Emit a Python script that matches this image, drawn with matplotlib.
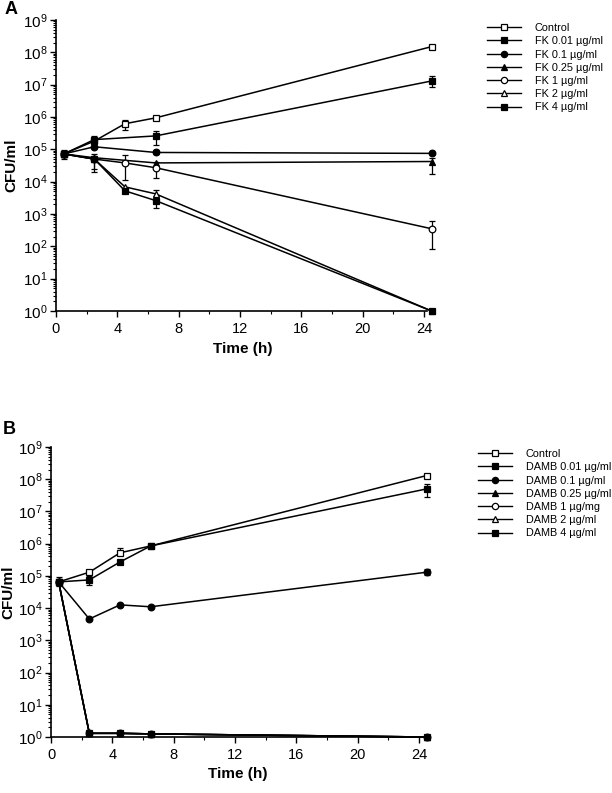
import numpy as np
import matplotlib
matplotlib.use("Agg")
import matplotlib.pyplot as plt
from matplotlib.ticker import LogLocator, NullFormatter, MultipleLocator
from matplotlib.lines import Line2D

plt.rcParams.update({
    "font.family": ["Liberation Sans", "DejaVu Sans"],
    "mathtext.fontset": "custom",
    "mathtext.rm": "Liberation Sans",
    "mathtext.it": "Liberation Sans",
    "mathtext.bf": "Liberation Sans:bold",
})

nan = np.nan

# sampling times (h)
time_h = [0.5, 2.5, 4.5, 6.5, 24.5]

# ---- panel A: FK ----
fk_labels = ["Control", "FK 0.01 µg/ml", "FK 0.1 µg/ml", "FK 0.25 µg/ml",
             "FK 1 µg/ml", "FK 2 µg/ml", "FK 4 µg/ml"]
fk_control = [7.2e4, 1.8e5, 6.2e5, 9.4e5, 1.5e8]
fk_001 = [7.2e4, 2.0e5, nan, 2.6e5, 1.3e7]
fk_01 = [7.2e4, 1.2e5, nan, 8.0e4, 7.5e4]
fk_025 = [7.2e4, 5.5e4, nan, 3.8e4, 4.2e4]
fk_1 = [7.2e4, 5.0e4, 3.8e4, 2.7e4, 3.5e2]
fk_2 = [7.2e4, 5.0e4, 6.9e3, 4.2e3, 1.0]
fk_4 = [7.2e4, 5.0e4, 5.2e3, 2.6e3, 1.0]

# error bar bounds (lower, upper), nan = no bar
fk_control_lo = [5.1e4, nan, 4.0e5, nan, nan]
fk_control_hi = [9.6e4, nan, 8.2e5, nan, nan]
fk_001_lo = [nan, 1.5e5, nan, 1.4e5, 8.5e6]
fk_001_hi = [nan, 2.6e5, nan, 3.7e5, 1.9e7]
fk_01_lo = [nan, nan, nan, 7.0e4, nan]
fk_01_hi = [nan, nan, nan, 9.5e4, nan]
fk_025_lo = [nan, 2.5e4, nan, nan, 1.7e4]
fk_025_hi = [nan, 7.0e4, nan, nan, 5.5e4]
fk_1_lo = [nan, nan, 1.1e4, 1.3e4, 83]
fk_1_hi = [nan, nan, 6.7e4, 4.0e4, 5.9e2]
fk_2_lo = [nan, 2.0e4, nan, 3.0e3, nan]
fk_2_hi = [nan, 6.0e4, nan, 5.5e3, nan]
fk_4_lo = [nan, nan, 4.5e3, 1.5e3, nan]
fk_4_hi = [nan, nan, 6.5e3, 3.5e3, nan]

# ---- panel B: DAMB ----
damb_labels = ["Control", "DAMB 0.01 µg/ml", "DAMB 0.1 µg/ml", "DAMB 0.25 µg/ml",
               "DAMB 1 µg/mg", "DAMB 2 µg/ml", "DAMB 4 µg/ml"]
damb_control = [6.5e4, 1.3e5, 5.2e5, 8.5e5, 1.3e8]
damb_001 = [6.5e4, 7.5e4, 2.7e5, 8.5e5, 5.0e7]
damb_01 = [6.5e4, 4.6e3, 1.26e4, 1.1e4, 1.3e5]
damb_025 = [6.5e4, 1.3, 1.3, 1.25, 1.0]
damb_1 = [6.5e4, 1.3, 1.3, 1.25, 1.0]
damb_2 = [6.5e4, 1.3, 1.3, 1.25, 1.0]
damb_4 = [6.5e4, 1.3, 1.3, 1.25, 1.0]

damb_control_lo = [5.0e4, nan, 4.5e5, nan, nan]
damb_control_hi = [9.0e4, nan, 7.4e5, nan, nan]
damb_001_lo = [nan, 5.3e4, nan, nan, 2.8e7]
damb_001_hi = [nan, 1.0e5, nan, nan, 7.3e7]
damb_01_lo = [nan, nan, nan, nan, 1.1e5]
damb_01_hi = [nan, nan, nan, nan, 1.6e5]
no_err = [nan] * 5

# marker style per concentration: (marker, filled)
styles = [("s", False), ("s", True), ("o", True), ("^", True),
          ("o", False), ("^", False), ("s", True)]


def draw_panel(ax, series, lows, highs, labels, legend_xy, ylab_x):
    for vals, lo, hi, (mk, filled) in zip(series, lows, highs, styles):
        t = np.array(time_h)
        v = np.array(vals)
        ok = ~np.isnan(v)
        face = "black" if filled else "white"
        ax.plot(t[ok], v[ok], color="black", lw=1.1, marker=mk, ms=4.8,
                mfc=face, mec="black", mew=0.9, clip_on=False, zorder=3)
        lo = np.array(lo)
        hi = np.array(hi)
        e = ~np.isnan(lo)
        if e.any():
            ax.errorbar(t[e], v[e], yerr=[v[e] - lo[e], hi[e] - v[e]], fmt="none",
                        ecolor="black", elinewidth=0.9, capsize=2.5, capthick=0.9,
                        clip_on=False, zorder=2)

    ax.set_yscale("log")
    ax.set_ylim(1, 1e9)
    ax.set_xlim(0, 24.2)
    ax.yaxis.set_major_locator(LogLocator(base=10, numticks=20))
    ax.yaxis.set_minor_locator(LogLocator(base=10, subs=np.arange(2, 10), numticks=100))
    ax.yaxis.set_minor_formatter(NullFormatter())
    ax.xaxis.set_major_locator(MultipleLocator(4))
    ax.xaxis.set_minor_locator(MultipleLocator(2))
    ax.spines["top"].set_visible(False)
    ax.spines["right"].set_visible(False)
    ax.spines["left"].set_linewidth(1.2)
    ax.spines["bottom"].set_linewidth(1.2)
    ax.tick_params(axis="y", which="major", direction="out", length=4, width=1.0,
                   labelsize=11, pad=2)
    ax.tick_params(axis="x", which="major", direction="out", length=4, width=1.0,
                   labelsize=10.5, pad=4)
    ax.tick_params(axis="both", which="minor", direction="out", length=2.5, width=0.8)
    ax.set_xlabel("Time (h)", fontsize=11, fontweight="bold")
    ax.set_ylabel("CFU/ml", fontsize=11, fontweight="bold")
    ax.xaxis.set_label_coords(0.504, -0.105)
    ax.yaxis.set_label_coords(ylab_x, 0.5)

    handles = []
    for (mk, filled), lab in zip(styles, labels):
        handles.append(Line2D([], [], color="black", lw=1.0, marker=mk, ms=4.5,
                              mfc="black" if filled else "white", mec="black",
                              mew=0.9, label=lab))
    ax.legend(handles=handles, loc="upper left", bbox_to_anchor=legend_xy,
              bbox_transform=fig.transFigure, frameon=False, fontsize=7.8,
              handlelength=3.1, handletextpad=1.3, labelspacing=0.3,
              borderpad=0, borderaxespad=0)


fig = plt.figure(figsize=(6.12, 7.93), dpi=100)
W, H = 612.0, 793.0
axA = fig.add_axes([56 / W, 1 - 311 / H, (427 - 56) / W, 291 / H])
axB = fig.add_axes([51 / W, 1 - 737 / H, (422 - 51) / W, 290 / H])

draw_panel(axA,
           [fk_control, fk_001, fk_01, fk_025, fk_1, fk_2, fk_4],
           [fk_control_lo, fk_001_lo, fk_01_lo, fk_025_lo, fk_1_lo, fk_2_lo, fk_4_lo],
           [fk_control_hi, fk_001_hi, fk_01_hi, fk_025_hi, fk_1_hi, fk_2_hi, fk_4_hi],
           fk_labels, (487 / W, 1 - 23 / H), -0.102)
draw_panel(axB,
           [damb_control, damb_001, damb_01, damb_025, damb_1, damb_2, damb_4],
           [damb_control_lo, damb_001_lo, damb_01_lo, no_err, no_err, no_err, no_err],
           [damb_control_hi, damb_001_hi, damb_01_hi, no_err, no_err, no_err, no_err],
           damb_labels, (478 / W, 1 - 449 / H), -0.097)

fig.text(5 / W, 1 - 10 / H, "A", fontsize=13, fontweight="bold", va="center")
fig.text(3 / W, 1 - 429 / H, "B", fontsize=13, fontweight="bold", va="center")

fig.savefig("out.png", dpi=100)
